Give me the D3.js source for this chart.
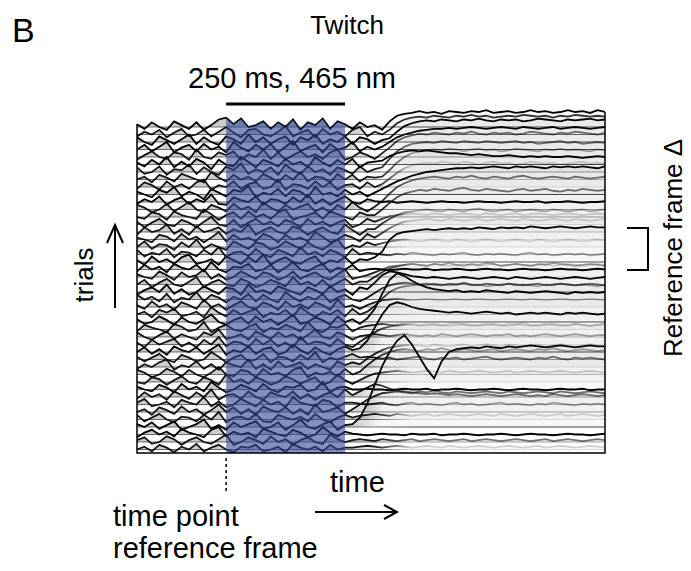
<!DOCTYPE html>
<html><head><meta charset="utf-8">
<script src="https://cdn.jsdelivr.net/npm/d3@7"></script>
<style>
body{margin:0;background:#fff}
svg text{font-family:"Liberation Sans",Arial,Helvetica,sans-serif;fill:#000}
</style>
</head><body>
<svg id="chart" width="691" height="571"></svg>
<script>
// Imaging frames per trial (64 fps) and the light pulse window in frames
const FRAME_COUNT = 64;
const stimFrames = [12, 28];          // 250 ms at 64 fps
const referenceFrame = 12;            // time point of the reference frame
const fadeFrames = [32, 37];          // traces fade from dark to their own shade as the response develops
const fillFadeFrames = [29, 33];      // deflection shading fades a little earlier
const STEP = 8;                       // vertical offset between stacked trials (ΔF units)

// Grey level of each trial, top to bottom: K black, D dark, G mid, L light, V very light
const trialShades = ["K","D","K","K","G","K","G","L","V","K","K","G","G","V","L","V","V","L","K","K","V","L",
                     "K","G","V","L","K","V","L","V","K","G","V","L","V","K","G","L","G","V","K","K","G","V"];

// ΔF relative to the reference frame, one value per frame, trials top to bottom
const trialTraces = [
"3 -2 5 0 -3 6 2 -2  5 -3 2 8 10 3 9 0  2 6 -2 5 0 8 -3 5  2 9 -2 6 3 -2 5 0  2 -3  6 12 14 15 17 15 16 14  17 16 15 17 16 18 15 16  17 15 16 18 16 17 15 16  18 16 17 15 18 16",
"-2 3 0 5 -3 2 6 -2  0 5 -2 3 8 2 -3 5  6 0 -2 3 9 -2 2 5  -3 6 0 3 -2 5 8 -2  3 0  5 12 16 18 19 18 20 19  18 20 19 21 19 20 18 19  20 19 21 20 19 20 18 20  19 21 20 19 20 19",
"5 0 -3 6 2 -2 3 8  -2 5 0 -3 6 3 -2 8  0 5 -2 3 6 -3 5 2  8 -2 3 0 6 -2 5 3  -2 2  4 11 17 20 22 23 22 24  23 22 24 23 25 23 22 24  23 24 22 23 25 24 23 22  24 23 24 25 23 24",
"0 5 -2 3 8 -3 2 5  -2 6 0 3 -3 8 2 -2  5 0 6 -3 3 9 -2 2  5 -3 6 0 2 8 -2 3  0  3 8 13 16 18 20 21 22  22 23 22 23 24 23 22 23  24 23 22 24 23 22 23 24  22 23 24 23 22 23 24",
"-3 2 6 0 -2 5 3 -3  8 0 -2 5 2 6 -3 3  0 8 -2 5 -3 2 6 0  3 -2 5 8 -3 0 5 2  -2  4 10 17 21 23 25 24 26  25 24 26 25 27 25 24 26  25 26 24 25 27 26 25 24  26 25 27 26 25 24 26",
"2 -2 5 0 8 -3 3 -2  6 2 -5 5 0 -2 8 3  -3 5 2 -2 6 0 3 -3  8 2 -2 5 0 6 -3 2  3  4 9 12 14 15 14 15 14  13 12 12 11 10 11 10 9  9 10 9 8 9 8 9 8  8 9 8 7 8 9 8",
"5 -2 0 6 -3 3 2 8  -2 5 0 -3 6 2 9 -2  3 0 5 -3 8 2 -2 6  0 3 -3 5 2 -2 6 0  3  5 14 22 27 30 31 32 31  33 32 31 33 32 31 33 32  31 32 33 31 32 30 31 32  33 31 32 30 31 32 31",
"0 3 -3 5 2 -2 6 3  0 -3 8 2 -2 5 0 3  -2 6 2 -3 5 0 8 -2  3 2 -3 6 0 5 -2 3  2  3 10 18 24 28 30 31 32  31 33 32 30 32 33 31 32  30 31 33 32 31 30 32 31  33 31 32 31 30 32 31",
"-2 5 2 -3 6 0 3 -2  5 8 -3 2 0 6 -2 3  5 -2 0 8 -3 3 2 -2  6 0 5 -3 2 3 -2 5  0  3 9 15 20 23 25 26 25  27 26 25 27 26 24 26 27  25 26 24 25 27 26 25 26  24 25 26 27 25 26 25",
"3 0 -3 5 2 8 -2 3  0 -5 6 2 -2 5 3 9  -3 2 0 6 -2 5 3 -3  8 0 2 -2 5 0 3 -2  2 6 10 14 17 20 22 24  25 26 27 28 28 29 28 29  30 29 28 30 29 30 29 28  30 29 30 29 30 29 28 30",
"-2 3 0 6 -3 2 5 -2  3 0 8 -2 -3 5 2 0  6 -3 3 2 -2 5 0 8  -2 3 -3 2 6 0 -2 3  1 0 1 -1 0 1 0 -1  0 1 0 0 -1 0 1 0  0 -1 0 1 0 0 1 -1  0 0 1 0 -1 0 0 1",
"5 2 -3 0 6 -2 3 8  0 -3 5 2 -2 6 0 3  -3 8 2 -2 5 0 3 6  -2 2 -3 5 0 8 2 -2  3 9 17 24 28 31 33 34  35 34 33 35 34 36 34 33  35 34 33 35 36 34 33 34  35 34 33 35 34 33 34 35",
"0 -2 5 3 -3 6 2 0  -2 8 3 -3 2 5 -2 6  0 3 -2 5 8 -3 0 2  5 -2 6 3 0 -3 5 2  2 8 15 21 25 27 29 28  30 29 28 30 31 29 28 30  29 28 27 29 30 28 29 30  28 27 29 28 30 29 28 29",
"3 -3 2 6 0 -2 5 2  -3 3 8 0 -2 5 -3 2  6 0 3 -2 5 2 -3 6  0 3 -2 2 5 -3 0 6  3 6 9 10 11 12 11 10  12 11 10 11 12 11 10 12  11 10 11 12 10 11 12 11  10 11 12 11 10 11 12 11",
"-3 5 0 2 8 -2 3 -3  6 0 2 5 -2 3 0 8  -3 2 5 0 -2 6 3 -3  2 5 0 -2 8 2 -3 3  3 9 14 18 21 22 23 24  23 22 24 23 22 24 25 23  22 23 24 22 23 24 23 22  24 23 22 23 24 22 23 24",
"2 0 -3 5 3 -2 6 0  3 -3 2 8 -2 5 0 2  -2 6 3 -3 5 0 2 -2  8 3 -3 0 5 2 -2 6  2 7 12 16 19 20 21 22  21 20 22 21 20 21 22 20  21 22 21 20 22 21 20 21  22 21 20 22 21 20 21 22",
"0 6 -2 3 2 -3 5 0  8 -2 3 0 -3 6 2 -2  5 3 -3 0 6 2 -2 5  0 -3 3 8 -2 2 0 5  2 4 6 7 8 7 6 7  8 7 6 8 7 6 7 8  7 6 7 8 7 6 8 7  6 7 8 7 6 7 8 7",
"5 -2 2 0 6 -3 3 2  -2 5 0 8 -3 2 3 -2  6 0 -3 5 2 -2 8 0  3 -2 5 2 -3 6 0 2  1 0 -1 1 0 2 1 0  -1 1 0 1 2 0 -1 1  0 1 0 -1 1 2 0 1  -1 0 1 0 1 -1 0 1",
"2 -3 6 0 3 -2 5 8  -2 0 3 -3 6 2 -2 5  0 8 -3 2 5 0 -2 3  6 -3 2 0 5 -2 3  2 5 11 24 30 32 33 34  35 34 35 36 35 36 35 37  36 35 37 36 37 36 38 37  36 37 38 37 36 37 38 37  37",
"-2 5 0 3 -3 6 2 0  5 -2 8 0 -3 3 2 6  -2 0 5 -3 2 8 0 -2  3 6 -3 2 0 5 -2  0 1 0 -1 0 1 0 0  1 -1 0 0 1 0 -1 0  1 0 0 -1 0 1 0 0  -1 0 1 0 0 -1 0 1  0",
"3 0 -2 6 2 -3 5 0  2 8 -2 3 -3 0 6 2  -2 5 3 -3 0 6 -2 2  5 0 -3 3 8 -2 0  2 5 8 11 12 13 14 13  12 14 13 12 13 14 13 12  13 14 12 13 14 13 12 13  14 12 13 14 13 12 13 14  13",
"0 5 -3 2 6 0 -2 3  8 -3 2 5 0 -2 6 3  -3 0 5 2 -2 8 0 3  -2 5 -3 2 6 0 3  3 8 13 17 19 21 22 21  20 22 21 23 21 20 22 21  23 22 20 21 22 21 20 22  21 23 22 21 20 21 22 21  20",
"-3 2 5 0 8 -2 3 -3  0 6 2 -2 5 3 -3 8  0 2 -2 6 3 0 -3 5  2 -2 6 0 3 -3 5  3 10 18 22 21 19 17 16  15 16 15 14 15 16 15 14  15 16 15 14 16 15 14 15  16 15 14 15 16 15 14 15  16",
"5 0 3 -2 6 -3 2 0  8 -2 5 2 -3 3 0 6  -2 5 0 -3 8 2 -2 3  0 6 -3 2 5 0 -2  2 7 12 15 17 18 17 16  17 16 15 17 16 18 16 15  17 16 15 17 16 15 16 17  15 16 17 16 15 16 17 16  15",
"2 -2 6 0 3 -3 5 2  -2 8 0 3 -3 2 6 0  -2 5 2 -3 6 0 3 -2  5 2 -3 8 0 2 -2  2 5 7 8 9 8 7 8  9 8 7 8 9 7 8 9  8 7 8 9 8 7 9 8  7 8 9 8 7 8 9 8  7",
"0 3 -3 5 2 6 -2 0  3 -3 8 2 -2 5 0 3  6 -3 2 0 5 -2 8 2  -3 3 0 5 -2 6 0  3 9 17 24 28 30 31 32  31 33 32 31 32 33 31 32  30 31 32 33 31 32 31 30  32 31 33 32 31 32 31 30  32",
"3 -2 0 6 2 -3 5 0  -2 3 8 0 -3 2 5 -2  6 0 3 -3 2 8 -2 0  5 2 -3 6 0 3 -2  4 14 30 45 52 49 44 40  37 35 34 33 34 32 33 32  34 33 32 31 33 32 31 32  33 32 31 30 32 31 32 31  32",
"-2 5 2 0 -3 6 3 -2  0 8 -3 2 5 0 -2 3  6 -3 2 0 5 2 -2 8  0 -3 3 2 6 -2  2 4 5 6 5 4 5 6  5 4 6 5 4 5 6 5  4 5 6 5 4 6 5 4  5 6 5 4 5 6 5 4  5 6",
"5 0 -3 2 6 -2 3 0  -3 5 2 8 -2 0 3 -3  6 2 -2 5 0 3 -3 2  8 0 -2 5 2 -3  1 2 3 2 1 2 3 2  1 2 1 3 2 1 2 3  2 1 2 2 3 1 2 1  2 3 2 1 2 3 2 1  2 2",
"2 -3 5 0 3 6 -2 2  -3 5 0 8 -2 3 2 -3  6 0 5 -2 2 -3 8 0  3 2 -2 6 0 -3  3 8 13 17 19 21 22 21  20 22 21 20 22 23 21 20  21 22 21 20 22 21 23 21  20 21 22 21 20 22 21 20  21 22",
"0 5 -2 3 -3 6 2 0  5 -2 3 8 -3 2 0 6  -2 3 5 -3 0 8 2 -2  5 0 -3 3 6 2  4 12 26 40 50 53 51 48  46 45 44 43 42 43 42 41  42 43 42 41 42 40 41 42  41 42 41 40 42 41 42 41  40 41",
"3 -2 2 6 0 -3 5 2  -2 0 8 3 -3 2 5 -2  0 6 -3 3 2 -2 5 0  8 -3 2 0 3 6  2 3 2 1 2 0 1 2  3 1 0 2 1 2 0 1  2 3 1 0 1 2 1 0  2 1 3 1 0 2 1 2  1 0",
"-2 3 0 5 8 -3 2 0  6 -2 3 -3 5 2 0 8  -2 3 -3 6 0 2 5 -2  3 0 -3 6 2 5  3 9 14 18 21 22 23 24  23 22 24 23 22 23 24 22  23 24 23 22 24 23 22 23  24 22 23 24 23 22 23 24  23 22",
"5 2 -3 0 6 3 -2 5  0 -3 2 8 0 -2 5 3  -3 6 0 2 -2 5 8 -3  2 0 3 -2 6 0  3 10 16 21 24 26 27 26  25 27 26 28 26 25 27 26  25 26 27 25 26 27 26 25  27 26 28 26 25 26 27 26  25 26",
"0 -2 5 3 -3 2 6 0  -2 5 2 -3 8 0 3 -2  5 2 -3 0 6 3 -2 2  5 -3 0 8 2 -2  2 6 9 10 11 12 11 10  11 12 11 10 12 11 10 11  12 11 10 11 12 10 11 12  11 10 11 12 11 10 11 12  11 10",
"3 0 -2 5 2 -3 6 0  3 -2 8 2 -3 0 5 2  -2 6 0 -3 3 2 5 -2  0 8 -3 2 3 0  0 1 0 0 -1 0 1 0  0 1 -1 0 0 1 0 -1  0 0 1 0 -1 0 1 0  0 -1 0 1 0 0 1 -1  0 0",
"-2 5 0 3 -3 6 2 -2  5 0 8 -3 2 3 -2 6  0 -3 5 2 0 6 -2 3  -3 2 5 0 8  2 6 10 14 12 9 7 6  5 4 3 4 3 2 3 2  1 2 3 2 1 2 3 2  1 2 1 3 2 1 2 3  2 1 2",
"2 6 -2 0 3 -3 5 2  0 8 -2 3 -3 0 6 2  -2 5 0 3 -3 8 2 0  -2 5 3 -3 2  2 1 0 1 2 0 -1 1  2 0 1 0 -1 1 2 0  1 -1 0 1 2 0 1 0  -1 1 0 2 1 0 -1 1  0 1 0",
"0 3 -3 5 2 -2 6 0  3 -3 2 8 0 5 -2 3  -3 6 2 0 5 -2 3 -3  8 0 2 5 -2  3 8 13 17 20 21 22 21  20 22 21 23 21 20 22 21  20 21 22 21 20 22 21 20  21 22 21 20 22 21 20 21  22 21 20",
"5 -2 2 6 0 -3 3 2  -2 5 0 8 -3 2 3 0  6 -2 -3 5 2 0 3 -2  6 0 -3 2 5  2 4 5 6 5 4 6 5  4 5 6 4 5 6 5 4  5 6 5 4 6 5 4 5  6 5 4 5 6 4 5 6  5 4 5",
"3 0 5 -2 2 6 -3 0  3 8 -2 2 -3 5 0 3  6 -2 0 5 -3 2 8 0  -2 3 6 -3 2  3 10 25 45 65 80 92 98  88 75 62 52 70 80 83 84  85 84 86 85 84 86 85 86  87 86 85 86 87 86 85 86  87 86 86",
"-3 2 5 0 3 -2 6 2  0 -3 5 8 -2 3 0 2  -3 6 3 0 -2 5 2 -3  0 8 2 -2 3  1 0 -1 0 1 0 0 -1  1 0 0 1 -1 0 0 1  0 -1 0 0 1 0 -1 0  1 0 0 -1 0 1 0 0  -1 0 1",
"2 5 -2 0 6 3 -3 2  5 0 -2 3 8 -3 0 5  2 -2 6 0 3 -3 2 5  0 -2 8 3 0  2 3 2 1 3 2 1 2  3 1 2 3 2 1 2 3  1 2 3 2 1 2 3 2  1 2 3 1 2 3 2 1  2 3 2",
"0 3 -2 5 2 -3 3 0  6 -2 2 5 0 -3 3 2  5 -2 0 3 -3 6 2 0  3 -2 5 0 2  2 3 4 3 2 3 4 3  2 3 4 3 2 4 3 2  3 4 3 2 3 4 3 2  3 4 2 3 4 3 2 3  4 3 2"
];

// stroke opacity of black for each grey level after the response develops
const shadeAlpha = {K: 1, D: 0.8, G: 0.55, L: 0.35, V: 0.17};
const shadeOrder = ["V", "L", "G", "D", "K"];
const baselineAlpha = 0.9;   // all traces are dark during the baseline period

const svg = d3.select("#chart");

const trials = trialTraces.map((s, i) => ({
  index: i,
  shade: trialShades[i],
  values: s.trim().split(/\s+/).map(Number)
}));

const x = d3.scaleLinear().domain([0, FRAME_COUNT - 1]).range([137, 605]);
const y = d3.scaleLinear().domain([0, (trials.length - 1) * STEP]).range([127, 449.5]);
const plotBottom = 453;
const frac = f => f / (FRAME_COUNT - 1);

// stacked position: trial offset minus its ΔF (upward deflection)
const yOf = (t, v) => y(t.index * STEP - v);

const defs = svg.append("defs");
defs.append("clipPath").attr("id", "plotClip")
  .append("rect").attr("x", x(0)).attr("y", 0).attr("width", x(FRAME_COUNT - 1) - x(0)).attr("height", plotBottom);

// gradients along time: dark during the baseline period, lighter once the response is up
function addGradient(id, before, after, fade) {
  const g = defs.append("linearGradient").attr("id", id)
    .attr("gradientUnits", "userSpaceOnUse")
    .attr("x1", x(0)).attr("x2", x(FRAME_COUNT - 1)).attr("y1", 0).attr("y2", 0);
  [[0, before], [frac(fade[0]), before], [frac(fade[1]), after], [1, after]]
    .forEach(([o, a]) => g.append("stop").attr("offset", o).attr("stop-color", "#000").attr("stop-opacity", a));
}
shadeOrder.forEach(s => {
  addGradient("stroke" + s, Math.max(baselineAlpha, shadeAlpha[s]), shadeAlpha[s], fadeFrames);
  addGradient("base" + s, 0.55, shadeAlpha[s] * 0.7, fadeFrames);
});
addGradient("fillTrace", 0.2, 0.03, fillFadeFrames);

const plot = svg.append("g").attr("clip-path", "url(#plotClip)");

const sorted = trials.slice().sort((a, b) => shadeOrder.indexOf(a.shade) - shadeOrder.indexOf(b.shade));

// reference (zero) line of each trial
plot.selectAll("line.base").data(sorted).join("line")
  .attr("class", "base")
  .attr("x1", x(0)).attr("x2", x(FRAME_COUNT - 1))
  .attr("y1", d => y(d.index * STEP)).attr("y2", d => y(d.index * STEP))
  .attr("stroke", d => `url(#base${d.shade})`)
  .attr("stroke-width", 1.2);

// shaded deflection between each trace and its zero line
const area = d3.area().x((v, f) => x(f));
plot.selectAll("path.fill").data(sorted).join("path")
  .attr("class", "fill")
  .attr("d", t => area.y0(y(t.index * STEP)).y1(v => yOf(t, v))(t.values))
  .attr("fill", "url(#fillTrace)");

const line = d3.line().x((v, f) => x(f));
plot.selectAll("path.trace").data(sorted).join("path")
  .attr("class", "trace")
  .attr("d", t => line.y(v => yOf(t, v))(t.values))
  .attr("fill", "none")
  .attr("stroke", d => `url(#stroke${d.shade})`)
  .attr("stroke-width", 1.8)
  .attr("stroke-linejoin", "miter");

// light pulse window, bounded above by the top trial
const topTrial = trials[0];
const stimIdx = d3.range(stimFrames[0], stimFrames[1] + 1);
svg.append("path")
  .datum(stimIdx)
  .attr("d", d3.area().x(f => x(f)).y0(plotBottom).y1(f => yOf(topTrial, topTrial.values[f])))
  .attr("fill", "#2f4894").attr("fill-opacity", 0.6);

// plot frame (left, bottom, right)
svg.append("path")
  .attr("d", `M${x(0)},${y(0) - 3}V${plotBottom}H${x(FRAME_COUNT - 1)}V${yOf(topTrial, topTrial.values[FRAME_COUNT - 1])}`)
  .attr("fill", "none").attr("stroke", "#000").attr("stroke-width", 1.5);

// stimulus bar and label
svg.append("line").attr("x1", x(stimFrames[0])).attr("x2", x(stimFrames[1]))
  .attr("y1", 104).attr("y2", 104).attr("stroke", "#000").attr("stroke-width", 3);
svg.append("text").attr("x", 292).attr("y", 88).attr("text-anchor", "middle")
  .attr("font-size", 29).text("250 ms, 465 nm");

svg.append("text").attr("x", 12).attr("y", 42).attr("font-size", 34).text("B");
svg.append("text").attr("x", 347).attr("y", 34).attr("text-anchor", "middle").attr("font-size", 26).text("Twitch");

// trials axis
svg.append("text").attr("transform", "translate(93,275) rotate(-90)")
  .attr("text-anchor", "middle").attr("font-size", 26).text("trials");
svg.append("path").attr("d", "M115,308V225M107,243L115,225L123,243")
  .attr("fill", "none").attr("stroke", "#000").attr("stroke-width", 2);

// reference frame delta bracket and label
svg.append("path").attr("d", "M627,228H648V270H627")
  .attr("fill", "none").attr("stroke", "#000").attr("stroke-width", 2);
svg.append("text").attr("transform", "translate(682,248) rotate(-90)")
  .attr("text-anchor", "middle").attr("font-size", 26).text("Reference frame Δ");

// time axis
svg.append("line").attr("x1", x(referenceFrame)).attr("x2", x(referenceFrame))
  .attr("y1", 458).attr("y2", 492).attr("stroke", "#000").attr("stroke-width", 1.5)
  .attr("stroke-dasharray", "3,3");
svg.append("text").attr("x", 330).attr("y", 492).attr("font-size", 29).text("time");
svg.append("path").attr("d", "M315,512H397M384,505L397,512L384,519")
  .attr("fill", "none").attr("stroke", "#000").attr("stroke-width", 2);
svg.append("text").attr("x", 113).attr("y", 526).attr("font-size", 29).text("time point");
svg.append("text").attr("x", 113).attr("y", 558).attr("font-size", 29).text("reference frame");
</script>
</body></html>
